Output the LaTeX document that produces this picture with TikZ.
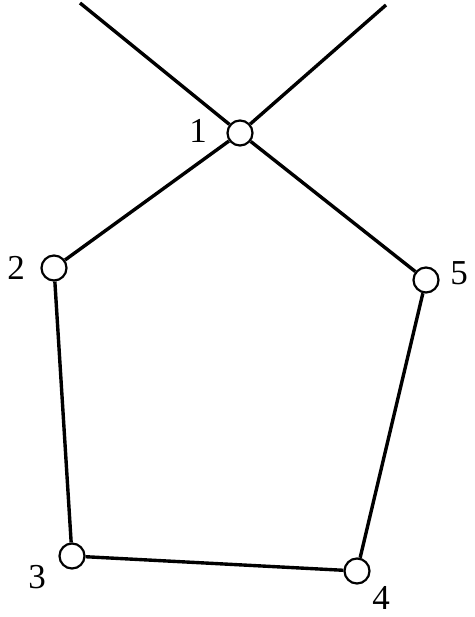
\documentclass[tikz,border=0pt]{standalone}
\usepackage{fontspec}
\setmainfont{Liberation Serif}
\begin{document}
\begin{tikzpicture}[x=1pt,y=-1pt,
  vtx/.style={circle,draw,line width=2.2pt,minimum size=25pt,inner sep=0pt,fill=white},
  edge/.style={line width=3.4pt},
  lbl/.style={font=\fontsize{35}{35}\selectfont,inner sep=0pt}]
\useasboundingbox (0,0) rectangle (474,617);
\node[vtx] (v1) at (240,133) {};
\node[vtx] (v2) at (54,268) {};
\node[vtx] (v3) at (72,556) {};
\node[vtx] (v4) at (357,571) {};
\node[vtx] (v5) at (426,280) {};
\coordinate (t1) at (80,3);
\coordinate (t2) at (386,5);
\draw[edge] (t1) -- (v1);
\draw[edge] (t2) -- (v1);
\draw[edge] (v1) -- (v2);
\draw[edge] (v2) -- (v3);
\draw[edge] (v3) -- (v4);
\draw[edge] (v4) -- (v5);
\draw[edge] (v5) -- (v1);
\node[lbl] (l1) at (198,131) {1};
\node[lbl] (l2) at (16,268) {2};
\node[lbl] (l3) at (37,577) {3};
\node[lbl] (l4) at (381,598) {4};
\node[lbl] (l5) at (459,273) {5};
\end{tikzpicture}
\end{document}
